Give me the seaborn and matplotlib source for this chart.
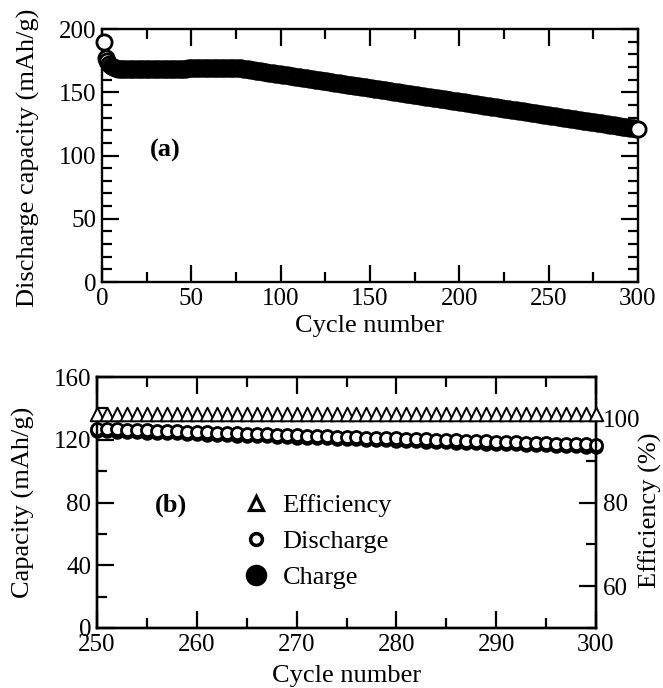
import numpy as np
import pandas as pd
import matplotlib
matplotlib.use("Agg")
import matplotlib.pyplot as plt
import seaborn as sns
from matplotlib.lines import Line2D
from matplotlib.ticker import MultipleLocator

# ---------------- data: panel (a) ----------------
cycles_a = list(range(1, 301))
discharge_a = (
    [190.0, 177.0, 174.5, 172.5, 171.0, 170.0, 169.5, 169.0, 168.5]                      # 1-9
    + [168.3, 168.2, 168.1, 168.0, 168.0, 168.0, 168.0, 168.0, 168.0, 168.0]             # 10-19
    + [168.0, 168.0, 168.0, 168.0, 168.0, 168.0, 168.0, 168.0, 168.0, 168.0]             # 20-29
    + [168.0, 168.0, 168.0, 168.0, 168.0, 168.0, 168.0, 168.0, 168.0, 168.0]             # 30-39
    + [168.0, 168.0, 168.0, 168.0, 168.0, 168.1, 168.3, 168.7, 169.0, 169.3]             # 40-49
    + [169.5, 169.5, 169.5, 169.5, 169.5, 169.5, 169.5, 169.5, 169.5, 169.5]             # 50-59
    + [169.5, 169.5, 169.5, 169.5, 169.5, 169.5, 169.5, 169.5, 169.5, 169.5]             # 60-69
    + [169.5, 169.5, 169.5, 169.5, 169.5, 169.4]                                         # 70-75
    + [169.3, 169.1, 168.9, 168.6, 168.4, 168.2, 168.0, 167.8, 167.6, 167.4]             # 76-85
    + [167.1, 166.9, 166.7, 166.5, 166.3, 166.1, 165.8, 165.6, 165.4, 165.2]             # 86-95
    + [165.0, 164.8, 164.6, 164.3, 164.1, 163.9, 163.7, 163.5, 163.3, 163.1]             # 96-105
    + [162.8, 162.6, 162.4, 162.2, 162.0, 161.8, 161.5, 161.3, 161.1, 160.9]             # 106-115
    + [160.7, 160.5, 160.2, 160.0, 159.8, 159.6, 159.4, 159.2, 159.0, 158.7]             # 116-125
    + [158.5, 158.3, 158.1, 157.9, 157.7, 157.5, 157.2, 157.0, 156.8, 156.6]             # 126-135
    + [156.4, 156.1, 155.9, 155.7, 155.5, 155.3, 155.1, 154.9, 154.6, 154.4]             # 136-145
    + [154.2, 154.0, 153.8, 153.6, 153.3, 153.1, 152.9, 152.7, 152.5, 152.3]             # 146-155
    + [152.0, 151.8, 151.6, 151.4, 151.2, 151.0, 150.8, 150.5, 150.3, 150.1]             # 156-165
    + [149.9, 149.7, 149.5, 149.2, 149.0, 148.8, 148.6, 148.4, 148.2, 147.9]             # 166-175
    + [147.7, 147.5, 147.3, 147.1, 146.9, 146.6, 146.4, 146.2, 146.0, 145.8]             # 176-185
    + [145.6, 145.4, 145.1, 144.9, 144.7, 144.5, 144.3, 144.1, 143.8, 143.6]             # 186-195
    + [143.4, 143.2, 143.0, 142.8, 142.5, 142.3, 142.1, 141.9, 141.7, 141.5]             # 196-205
    + [141.2, 141.0, 140.8, 140.6, 140.4, 140.2, 140.0, 139.7, 139.5, 139.3]             # 206-215
    + [139.1, 138.9, 138.7, 138.4, 138.2, 138.0, 137.8, 137.6, 137.4, 137.1]             # 216-225
    + [136.9, 136.7, 136.5, 136.3, 136.1, 135.8, 135.6, 135.4, 135.2, 135.0]             # 226-235
    + [134.8, 134.6, 134.3, 134.1, 133.9, 133.7, 133.5, 133.3, 133.0, 132.8]             # 236-245
    + [132.6, 132.4, 132.2, 132.0, 131.7, 131.5, 131.3, 131.1, 130.9, 130.7]             # 246-255
    + [130.4, 130.2, 130.0, 129.8, 129.6, 129.4, 129.2, 128.9, 128.7, 128.5]             # 256-265
    + [128.3, 128.1, 127.9, 127.6, 127.4, 127.2, 127.0, 126.8, 126.6, 126.3]             # 266-275
    + [126.1, 125.9, 125.7, 125.5, 125.3, 125.0, 124.8, 124.6, 124.4, 124.2]             # 276-285
    + [124.0, 123.8, 123.5, 123.3, 123.1, 122.9, 122.7, 122.5, 122.2, 122.0]             # 286-295
    + [121.8, 121.6, 121.4, 121.2, 121.0]                                                # 296-300
)

# ---------------- data: panel (b) ----------------
cycles_b = list(range(250, 301))
discharge_b = [127.0, 126.8, 126.6, 126.4, 126.2, 126.0, 125.8, 125.6, 125.4, 125.1,
               124.9, 124.7, 124.5, 124.3, 124.1, 123.9, 123.7, 123.5, 123.3, 123.1,
               122.8, 122.6, 122.4, 122.2, 122.0, 121.8, 121.6, 121.4, 121.2, 121.0,
               120.8, 120.6, 120.4, 120.2, 120.0, 119.8, 119.6, 119.4, 119.2, 119.0,
               118.8, 118.6, 118.4, 118.2, 118.0, 117.8, 117.6, 117.4, 117.2, 117.0,
               116.6]
charge_b = [125.6, 125.4, 125.2, 125.0, 124.8, 124.6, 124.4, 124.2, 124.0, 123.7,
            123.5, 123.3, 123.1, 122.9, 122.7, 122.5, 122.3, 122.1, 121.9, 121.7,
            121.4, 121.2, 121.0, 120.8, 120.6, 120.4, 120.2, 120.0, 119.8, 119.6,
            119.4, 119.2, 119.0, 118.8, 118.6, 118.4, 118.2, 118.0, 117.8, 117.6,
            117.4, 117.2, 117.0, 116.8, 116.6, 116.4, 116.2, 116.0, 115.8, 115.6,
            115.3]
efficiency_b = [101.2, 101.1, 101.1, 101.1, 101.1, 101.1, 101.1, 101.1, 101.1, 101.1,
                101.1, 101.1, 101.1, 101.1, 101.1, 101.1, 101.1, 101.1, 101.1, 101.1,
                101.1, 101.1, 101.1, 101.2, 101.1, 101.1, 101.1, 101.1, 101.1, 101.1,
                101.1, 101.1, 101.1, 101.1, 101.1, 101.1, 101.1, 101.1, 101.1, 101.1,
                101.1, 101.1, 101.1, 101.1, 101.1, 101.1, 101.1, 101.1, 101.1, 101.1,
                101.2]

legend_labels = ["Efficiency", "Discharge", "Charge"]

# ---------------- style ----------------
sns.set_theme(style="ticks")
plt.rcParams["font.family"] = ["Liberation Serif", "DejaVu Serif"]
plt.rcParams["text.color"] = "black"
plt.rcParams["axes.labelcolor"] = "black"
plt.rcParams["xtick.color"] = "black"
plt.rcParams["ytick.color"] = "black"
plt.rcParams["axes.edgecolor"] = "black"
TICK_FS = 18
LABEL_FS = 19

fig = plt.figure(figsize=(6.63, 6.88), dpi=100)
W, H = 663.0, 688.0


def style_axis(ax, right=True):
    for s in ax.spines.values():
        s.set_linewidth(1.7)
        s.set_color("black")
    ax.tick_params(which="both", direction="in", top=True, right=right,
                   width=1.6, color="black", labelsize=TICK_FS, pad=4,
                   labelcolor="black")
    ax.tick_params(which="major", length=12)
    ax.tick_params(which="minor", length=7)


# ---------------- panel (a) ----------------
axa = fig.add_axes([102 / W, 1 - 282 / H, 536 / W, 253 / H])
dfa = pd.DataFrame({"cycle": cycles_a, "capacity": discharge_a})
sns.scatterplot(data=dfa, x="cycle", y="capacity", ax=axa, marker="o", s=120,
                color="white", edgecolor="black", linewidth=2.0, legend=False,
                clip_on=False, zorder=3)
axa.set_xlim(0, 300)
axa.set_ylim(0, 200)
axa.xaxis.set_major_locator(MultipleLocator(50))
axa.xaxis.set_minor_locator(MultipleLocator(25))
axa.yaxis.set_major_locator(MultipleLocator(50))
axa.yaxis.set_minor_locator(MultipleLocator(10))
style_axis(axa)
axa.set_xlabel("Cycle number", fontsize=LABEL_FS, labelpad=4)
axa.set_ylabel("Discharge capacity (mAh/g)", fontsize=LABEL_FS)
axa.yaxis.set_label_coords(-0.115, 0.49)
axa.text(0.118, 0.52, "(a)", transform=axa.transAxes, fontsize=LABEL_FS,
         fontweight="bold", ha="center", va="center")

# ---------------- panel (b) ----------------
axb = fig.add_axes([97 / W, 1 - 628 / H, 499 / W, 251 / H])
dfb = pd.DataFrame({"cycle": cycles_b, "discharge": discharge_b,
                    "charge": charge_b, "efficiency": efficiency_b})
sns.scatterplot(data=dfb, x="cycle", y="charge", ax=axb, marker="o", s=85,
                color="black", edgecolor="black", linewidth=1.2, legend=False,
                clip_on=False, zorder=3)
sns.scatterplot(data=dfb, x="cycle", y="discharge", ax=axb, marker="o", s=75,
                color="white", edgecolor="black", linewidth=2.0, legend=False,
                clip_on=False, zorder=4)
axb.set_xlim(250, 300)
axb.set_ylim(0, 160)
axb.xaxis.set_major_locator(MultipleLocator(10))
axb.xaxis.set_minor_locator(MultipleLocator(5))
axb.yaxis.set_major_locator(MultipleLocator(40))
axb.yaxis.set_minor_locator(MultipleLocator(20))
style_axis(axb, right=False)
axb.set_xlabel("Cycle number", fontsize=LABEL_FS, labelpad=7)
axb.set_ylabel("Capacity (mAh/g)", fontsize=LABEL_FS)
axb.yaxis.set_label_coords(-0.125, 0.5)
axb.text(0.148, 0.49, "(b)", transform=axb.transAxes, fontsize=LABEL_FS,
         fontweight="bold", ha="center", va="center")

axr = axb.twinx()
sns.scatterplot(data=dfb, x="cycle", y="efficiency", ax=axr, marker="^", s=95,
                color="white", edgecolor="black", linewidth=1.4, legend=False,
                clip_on=False, zorder=5)
axr.set_ylim(50, 110)
axr.yaxis.set_minor_locator(MultipleLocator(10))
axr.set_yticks([60, 80, 100])
for s in axr.spines.values():
    s.set_linewidth(1.7)
    s.set_color("black")
axr.tick_params(axis="y", which="both", direction="in", width=1.6, color="black",
                labelsize=TICK_FS, pad=5, labelcolor="black")
axr.tick_params(axis="y", which="major", length=12)
axr.tick_params(axis="y", which="minor", length=7)
axr.set_xlabel("")
axr.set_ylabel("Efficiency (%)", fontsize=LABEL_FS)
axr.yaxis.set_label_coords(1.085, 0.47)

handles = [
    Line2D([], [], ls="none", marker="^", ms=9.5, mfc="white", mec="black", mew=2.3),
    Line2D([], [], ls="none", marker="o", ms=8.5, mfc="white", mec="black", mew=2.5),
    Line2D([], [], ls="none", marker="o", ms=14.5, mfc="black", mec="black"),
]
axr.legend(handles, legend_labels, loc="upper left",
           bbox_to_anchor=((243 - 97) / 499, 0.535), frameon=False,
           fontsize=LABEL_FS, borderpad=0, handlelength=1.0,
           handletextpad=0.5, labelspacing=0.48, borderaxespad=0)

fig.savefig("out.png", dpi=100)
